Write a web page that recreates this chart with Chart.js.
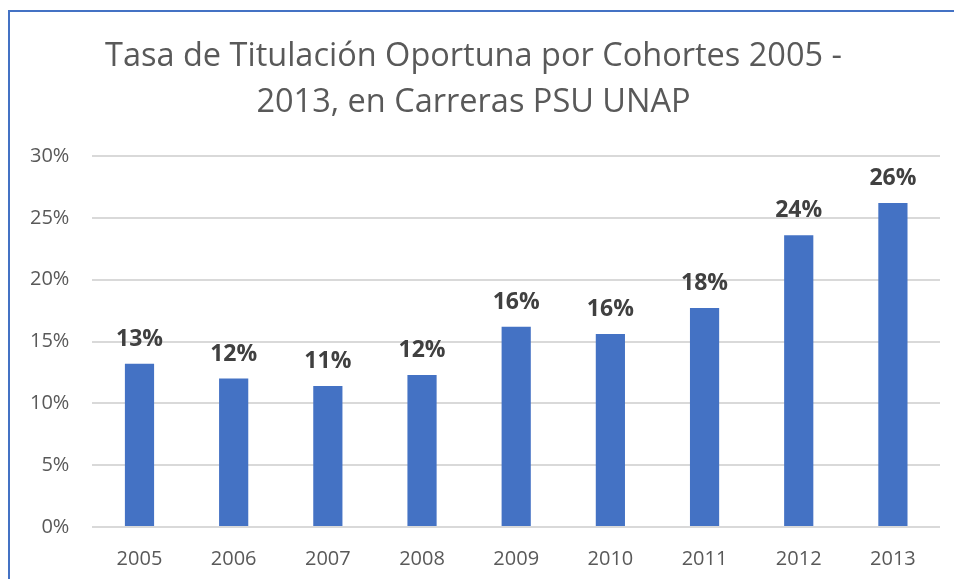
<!DOCTYPE html>
<html>
<head>
<meta charset="utf-8">
<script src="https://cdn.jsdelivr.net/npm/chart.js@4/dist/chart.umd.min.js"></script>
<style>
  html, body { margin: 0; padding: 0; background: #fff; }
  #wrap { position: relative; width: 954px; height: 579px; }
  #frame { position: absolute; left: 8px; top: 10px; right: -4px; bottom: -4px;
           border-left: 2px solid #4472c4; border-top: 2px solid #4472c4; }
  canvas { position: absolute; left: 0; top: 0; }
</style>
</head>
<body>
<div id="wrap">
  <div id="frame"></div>
  <canvas id="chart" width="954" height="579"></canvas>
</div>
<script>
// cohort years and on-time graduation rates
const years = ['2005', '2006', '2007', '2008', '2009', '2010', '2011', '2012', '2013'];
const rates = [0.132, 0.120, 0.114, 0.123, 0.162, 0.156, 0.177, 0.236, 0.262];
const rateLabels = ['13%', '12%', '11%', '12%', '16%', '16%', '18%', '24%', '26%'];
const titleLines = ['Tasa de Titulación Oportuna por Cohortes 2005 -', '2013, en Carreras PSU UNAP'];

// simple value labels above the bars
const barLabels = {
    id: 'barLabels',
    afterDatasetsDraw(chart) {
        const ctx = chart.ctx;
        const meta = chart.getDatasetMeta(0);
        ctx.save();
        ctx.font = 'bold 23px "Open Sans"';
        ctx.fillStyle = '#404040';
        ctx.textAlign = 'center';
        ctx.textBaseline = 'alphabetic';
        meta.data.forEach((bar, i) => {
            ctx.fillText(rateLabels[i], bar.x, bar.y - 18);
        });
        ctx.restore();
    }
};

new Chart(document.getElementById('chart'), {
    type: 'bar',
    data: {
        labels: years,
        datasets: [{
            data: rates,
            backgroundColor: '#4472c4',
            barPercentage: 0.31,
            categoryPercentage: 1
        }]
    },
    options: {
        responsive: false,
        animation: false,
        layout: { padding: { left: 7, right: 14, top: 34, bottom: -4 } },
        plugins: {
            legend: { display: false },
            tooltip: { enabled: false },
            title: {
                display: true,
                text: titleLines,
                color: '#595959',
                font: { family: '"Open Sans"', size: 32.5, weight: 'normal', lineHeight: 1.4 },
                padding: { top: 0, bottom: 31 }
            }
        },
        scales: {
            x: {
                grid: { display: false },
                border: { display: false },
                ticks: { color: '#595959', font: { family: '"Open Sans"', size: 20 }, padding: 12 }
            },
            y: {
                min: 0,
                max: 0.3,
                border: { display: false },
                grid: { color: '#d9d9d9', lineWidth: 2, drawTicks: false },
                ticks: {
                    stepSize: 0.05,
                    color: '#595959',
                    font: { family: '"Open Sans"', size: 20 },
                    padding: 23,
                    callback: v => Math.round(v * 100) + '%'
                }
            }
        }
    },
    plugins: [barLabels]
});
</script>
</body>
</html>
